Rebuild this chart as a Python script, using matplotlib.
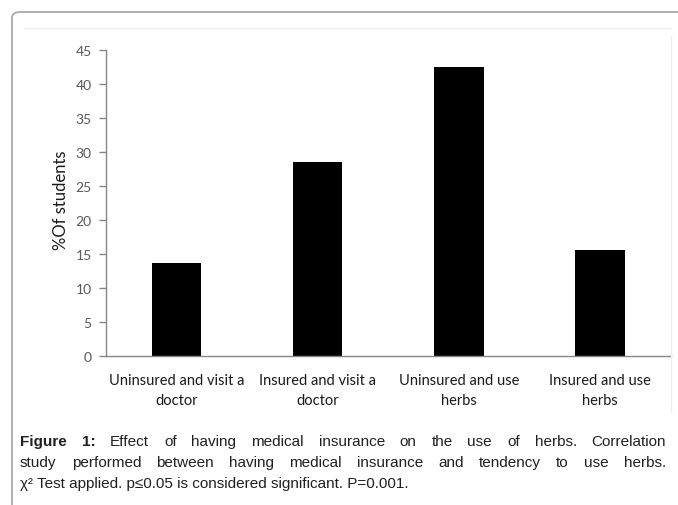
import matplotlib.pyplot as plt
from matplotlib.patches import FancyBboxPatch
from matplotlib.lines import Line2D

categories = ["Uninsured and visit a\ndoctor", "Insured and visit a\ndoctor",
              "Uninsured and use\nherbs", "Insured and use\nherbs"]
pct_students = [13.7, 28.5, 42.5, 15.6]
y_ticks = [0, 5, 10, 15, 20, 25, 30, 35, 40, 45]

caption_lines = [
    [("Figure", "bold"), ("1:", "bold"), ("Effect", "normal"), ("of", "normal"), ("having", "normal"),
     ("medical", "normal"), ("insurance", "normal"), ("on", "normal"), ("the", "normal"), ("use", "normal"),
     ("of", "normal"), ("herbs.", "normal"), ("Correlation", "normal")],
    [(w, "normal") for w in "study performed between having medical insurance and tendency to use herbs.".split()],
]
caption_last = "χ² Test applied. p≤0.05 is considered significant. P=0.001."

W, H = 678, 506
fig = plt.figure(figsize=(W / 100, H / 100), dpi=100)

def fx(px):
    return px / W

def fy(py):
    return 1 - py / H

# outer rounded frame of the figure box
frame = FancyBboxPatch((fx(12), fy(530)), fx(700), 530 / H - 13 / H,
                       boxstyle="round,pad=0,rounding_size=0.012",
                       transform=fig.transFigure, fill=False,
                       edgecolor="#a9a9a9", linewidth=1.3, clip_on=False)
fig.patches.append(frame)

# faint excel chart area border
fig.lines.append(Line2D([fx(24), fx(671)], [fy(29), fy(29)], transform=fig.transFigure,
                        color="#ededed", lw=1))
fig.lines.append(Line2D([fx(671), fx(671)], [fy(37), fy(413)], transform=fig.transFigure,
                        color="#ededed", lw=1))

ax = fig.add_axes([fx(105.7), fy(357.3), fx(670.7) - fx(105.7), fy(50.7) - fy(357.3)])
x = range(len(categories))
ax.bar(x, pct_students, width=0.35, color="black")
ax.set_xlim(-0.5, len(categories) - 0.5)
ax.set_ylim(0, 45)
ax.set_yticks(y_ticks)
ax.set_xticks(list(x))
ax.set_xticklabels(categories, fontsize=10.5, family="Lato", color="#1a1a1a", linespacing=1.55)
ax.tick_params(axis="x", length=0, pad=12)
ax.tick_params(axis="y", length=5, width=1, color="#868686", labelsize=10, labelcolor="#595959", pad=5)
for lbl in ax.get_yticklabels():
    lbl.set_family("Lato")
for s in ["top", "right"]:
    ax.spines[s].set_visible(False)
for s in ["left", "bottom"]:
    ax.spines[s].set_color("#868686")
    ax.spines[s].set_linewidth(1)
ax.set_ylabel("%Of students", fontsize=12, family="Lato", color="#1a1a1a", va="center")
ax.yaxis.set_label_coords((61 - 105.7) / 565, (357.3 - 200) / 306.6)

# caption, justified like the journal layout
renderer = fig.canvas.get_renderer()
cap_font = ["Liberation Sans", "DejaVu Sans"]
cap_size = 11
x0, x1 = 20, 666
line_y = [446, 467]
for words, py in zip(caption_lines, line_y):
    texts = [fig.text(0, fy(py), w, fontsize=cap_size, weight=wt, family=cap_font,
                      color="#231f20", va="baseline") for w, wt in words]
    widths = [t.get_window_extent(renderer).width for t in texts]
    gap = (x1 - x0 - sum(widths)) / (len(texts) - 1)
    pos = x0
    for t, wd in zip(texts, widths):
        t.set_x(fx(pos))
        pos += wd + gap
fig.text(fx(x0), fy(488), caption_last, fontsize=cap_size, family=cap_font, color="#231f20", va="baseline")

fig.savefig("out.png", dpi=100)
